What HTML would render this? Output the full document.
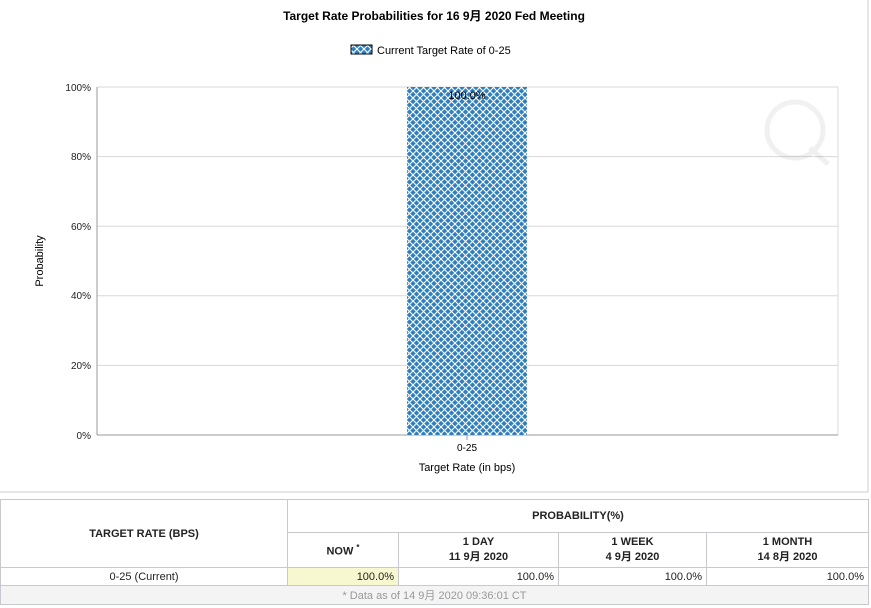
<!DOCTYPE html>
<html><head><style>
body{margin:0;width:871px;height:608px;background:#fff;font-family:"Liberation Sans","Noto Sans CJK SC",sans-serif;position:relative;overflow:hidden}
table{position:absolute;left:0;top:499px;width:869px;border-collapse:collapse;font-size:11px;color:#222}
td{border:1px solid #c8c8d0;padding:0 4px;text-align:center}
</style></head><body>
<svg width="871" height="495" style="position:absolute;left:0;top:0">
<defs><pattern id="p" width="7" height="7" patternUnits="userSpaceOnUse">
<rect width="7" height="7" fill="#2f7ec0"/>
<path d="M0,0L7,7M7,0L0,7" stroke="#fff" stroke-width="1.1"/>
</pattern></defs>
<line x1="868" y1="0" x2="868" y2="492" stroke="#ccc"/>
<line x1="0" y1="492" x2="868" y2="492" stroke="#ccc"/>
<text x="434" y="20" font-size="12" font-weight="bold" text-anchor="middle" font-family="Liberation Sans,Noto Sans CJK SC,sans-serif">Target Rate Probabilities for 16 9月 2020 Fed Meeting</text>
<rect x="351" y="45" width="21" height="9" fill="url(#p)" stroke="#000"/>
<text x="377" y="54" font-size="11" font-family="Liberation Sans,sans-serif">Current Target Rate of 0-25</text>
<g stroke="#d8d8d8">
<line x1="97" y1="87" x2="838" y2="87"/><line x1="97" y1="156.6" x2="838" y2="156.6"/><line x1="97" y1="226.2" x2="838" y2="226.2"/><line x1="97" y1="295.8" x2="838" y2="295.8"/><line x1="97" y1="365.4" x2="838" y2="365.4"/>
<line x1="838" y1="87" x2="838" y2="435"/>
</g>
<line x1="97" y1="87" x2="97" y2="435" stroke="#999"/>
<line x1="97" y1="435" x2="838" y2="435" stroke="#999"/>
<line x1="467" y1="435" x2="467" y2="440" stroke="#999"/>
<g font-size="10" text-anchor="end" font-family="Liberation Sans,sans-serif" fill="#222">
<text x="91" y="91">100%</text><text x="91" y="160">80%</text><text x="91" y="230">60%</text><text x="91" y="299">40%</text><text x="91" y="369">20%</text><text x="91" y="439">0%</text>
</g>
<rect x="407" y="87" width="120" height="348" fill="url(#p)"/>
<text x="467" y="99" font-size="11" text-anchor="middle" font-family="Liberation Sans,sans-serif">100.0%</text>
<text x="467" y="451" font-size="10" text-anchor="middle" font-family="Liberation Sans,sans-serif">0-25</text>
<text x="467" y="471" font-size="11" text-anchor="middle" font-family="Liberation Sans,sans-serif">Target Rate (in bps)</text>
<text transform="translate(43,261) rotate(-90)" font-size="11" text-anchor="middle" font-family="Liberation Sans,sans-serif">Probability</text>
<g opacity="0.12" stroke="#888" fill="none" stroke-width="5"><circle cx="795" cy="130" r="28"/><line x1="810" y1="148" x2="828" y2="164"/></g>
</svg>
<table>
<tr style="height:33px"><td rowspan="2" style="width:278px;font-weight:bold">TARGET RATE (BPS)</td><td colspan="4" style="font-weight:bold">PROBABILITY(%)</td></tr>
<tr style="height:35px;font-weight:bold"><td style="width:102px">NOW <sup style="font-size:8px">*</sup></td><td style="width:151px">1 DAY<br>11 9月 2020</td><td style="width:139px">1 WEEK<br>4 9月 2020</td><td>1 MONTH<br>14 8月 2020</td></tr>
<tr style="height:18px"><td>0-25 (Current)</td><td style="text-align:right;background:#f8f8d0">100.0%</td><td style="text-align:right">100.0%</td><td style="text-align:right">100.0%</td><td style="text-align:right">100.0%</td></tr>
<tr style="height:19px;background:#f4f4f4"><td colspan="5" style="color:#999">* Data as of 14 9月 2020 09:36:01 CT</td></tr>
</table>
</body></html>
